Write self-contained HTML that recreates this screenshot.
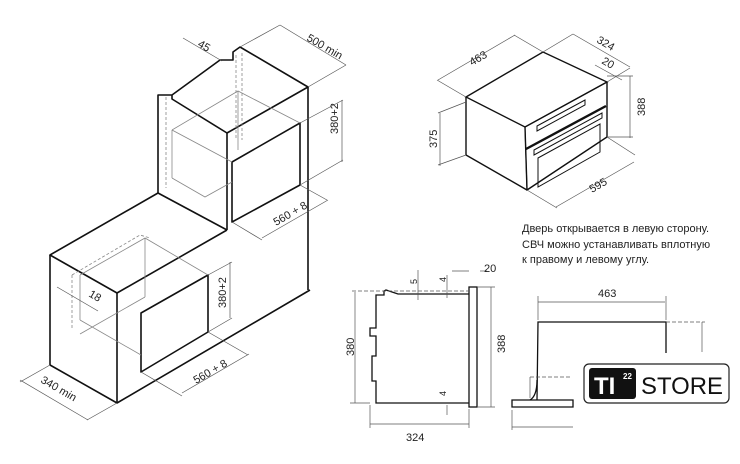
<!DOCTYPE html>
<html><head><meta charset="utf-8"><style>
html,body{margin:0;padding:0;background:#fff;}
svg{display:block}
text{font-family:"Liberation Sans","DejaVu Sans",sans-serif;fill:#222;}
</style></head><body>
<svg width="740" height="464" viewBox="0 0 740 464" xmlns="http://www.w3.org/2000/svg">
<g fill="none" stroke="#111" stroke-width="1.6" stroke-linejoin="round">
<polyline points="158,193 158,95 172,95 172,99 227,133 308,87 240,47 233,52 233,60 220,60 172,95"/>
<line x1="227" y1="133" x2="227" y2="230"/>
<line x1="158" y1="193" x2="227" y2="230"/>
<line x1="308" y1="87" x2="308" y2="290"/>
<polygon points="232,162 300,123 300,185 232,222"/>
<polyline points="227,230 117,293 50,255 158,193"/>
<line x1="50" y1="255" x2="50" y2="365"/>
<polyline points="50,365 117,403 310,290"/>
<line x1="117" y1="293" x2="117" y2="403"/>
<polygon points="141,313 208,275 208,332 141,372"/>
</g>
<g fill="none" stroke="#888" stroke-width="0.8">
<polyline points="172,130 238,91 300,123"/>
<line x1="172" y1="130" x2="232" y2="162"/>
<line x1="172" y1="130" x2="172" y2="178"/>
<polyline points="172,178 205,197 232,182"/>
<line x1="238" y1="91" x2="238" y2="150"/>
<polyline points="80,275 145,238 208,275"/>
<line x1="80" y1="275" x2="80" y2="320"/>
<polyline points="80,320 141,355"/>
<line x1="145" y1="238" x2="145" y2="297"/>
<line x1="145" y1="297" x2="80" y2="334"/>
</g>
<g fill="none" stroke="#888" stroke-width="0.8" stroke-dasharray="3,2">
<line x1="166" y1="97" x2="166" y2="188"/>
<line x1="236" y1="55" x2="236" y2="140"/>
<line x1="242" y1="53" x2="242" y2="140"/>
<polyline points="72,275 140,235 150,238"/>
<line x1="72" y1="275" x2="72" y2="330"/>
</g>
<g fill="none" stroke="#555" stroke-width="0.7">
<line x1="183" y1="38" x2="222" y2="61"/>
<line x1="240" y1="47" x2="280" y2="25"/><line x1="308" y1="87" x2="346" y2="65"/>
<line x1="280" y1="25" x2="346" y2="65"/>
<line x1="300" y1="123" x2="343" y2="100"/><line x1="300" y1="185" x2="343" y2="160"/>
<line x1="342" y1="100" x2="342" y2="162"/>
<line x1="300" y1="185" x2="327" y2="200"/><line x1="232" y1="222" x2="262" y2="240"/>
<line x1="262" y1="238" x2="328" y2="200"/>
<line x1="208" y1="275" x2="232" y2="262"/><line x1="208" y1="332" x2="232" y2="318"/>
<line x1="230" y1="262" x2="230" y2="318"/>
<line x1="208" y1="332" x2="248" y2="355"/><line x1="141" y1="372" x2="182" y2="396"/>
<line x1="182" y1="393" x2="249" y2="354"/>
<line x1="50" y1="365" x2="20" y2="382"/><line x1="117" y1="403" x2="87" y2="420"/>
<line x1="20" y1="380" x2="88" y2="420"/>
<line x1="57" y1="287" x2="98" y2="311"/>
</g>
<g font-size="11">
<text x="197" y="46" transform="rotate(30 197 46)">45</text>
<text x="306" y="40" transform="rotate(30 306 40)">500 min</text>
<text x="338" y="134" transform="rotate(-90 338 134)">380+2</text>
<text x="276" y="226" transform="rotate(-30 276 226)">560 + 8</text>
<text x="226" y="308" transform="rotate(-90 226 308)">380+2</text>
<text x="196" y="384" transform="rotate(-30 196 384)">560 + 8</text>
<text x="88" y="296" transform="rotate(30 88 296)">18</text>
<text x="40" y="382" transform="rotate(30 40 382)">340 min</text>
</g>
<g fill="none" stroke="#111" stroke-width="1.4">
<polygon points="466,97 543,52 607,82 525,127"/>
<line x1="466" y1="97" x2="466" y2="155"/>
<polyline points="466,155 527,190 607,137 607,82"/>
<line x1="525" y1="127" x2="527" y2="190"/>
<polygon points="525,127 607,82 607,137 527,190" stroke-width="1"/>
<polygon points="537,126 585,100 585,105 537,131" stroke-width="1"/>
<line x1="526" y1="149" x2="606" y2="106" stroke-width="2.4"/>
<polygon points="534,150 602,113 602,118 534,155" stroke-width="1"/>
<polygon points="538,158 600,124 600,152 538,187" stroke-width="1"/>
</g>
<g fill="none" stroke="#555" stroke-width="0.7">
<line x1="466" y1="97" x2="437" y2="80"/><line x1="543" y1="52" x2="514" y2="35"/>
<line x1="438" y1="80" x2="515" y2="35"/>
<line x1="543" y1="52" x2="573" y2="34"/><line x1="607" y1="82" x2="630" y2="68"/>
<line x1="573" y1="34" x2="630" y2="67"/>
<line x1="595" y1="65" x2="622" y2="80"/>
<line x1="607" y1="76" x2="633" y2="76"/><line x1="607" y1="137" x2="633" y2="137"/>
<line x1="630" y1="76" x2="630" y2="138"/>
<line x1="466" y1="102" x2="438" y2="113"/><line x1="466" y1="155" x2="438" y2="165"/>
<line x1="440" y1="113" x2="440" y2="166"/>
<line x1="527" y1="190" x2="557" y2="208"/><line x1="607" y1="137" x2="635" y2="155"/>
<line x1="556" y1="207" x2="634" y2="162"/>
</g>
<g font-size="11">
<text x="472" y="66" transform="rotate(-30 472 66)">463</text>
<text x="596" y="42" transform="rotate(30 596 42)">324</text>
<text x="601" y="63" transform="rotate(30 601 63)">20</text>
<text x="645" y="116" transform="rotate(-90 645 116)">388</text>
<text x="437" y="148" transform="rotate(-90 437 148)">375</text>
<text x="592" y="193" transform="rotate(-30 592 193)">595</text>
</g>
<g font-size="11" fill="#333">
<text x="522" y="232">Дверь открывается в левую сторону.</text>
<text x="522" y="248">СВЧ можно устанавливать вплотную</text>
<text x="522" y="263">к правому и левому углу.</text>
</g>
<g fill="none" stroke="#111" stroke-width="1.3">
<rect x="469" y="287" width="8" height="120"/>
<polyline points="469,294 398,294 386,290 384,291 384,295 376,295 376,328 370,328 370,336 376,336 376,356 372,356 372,381 376,381 376,403 469,403"/>
</g>
<g fill="none" stroke="#555" stroke-width="0.7">
<line x1="352" y1="291" x2="469" y2="291" stroke-dasharray="4,2"/>
<line x1="355" y1="292" x2="355" y2="403"/><line x1="350" y1="403" x2="370" y2="403"/>
<line x1="477" y1="287" x2="495" y2="287"/><line x1="477" y1="407" x2="495" y2="407"/>
<line x1="491" y1="287" x2="491" y2="407"/>
<line x1="370" y1="405" x2="370" y2="428"/><line x1="469" y1="409" x2="469" y2="428"/>
<line x1="370" y1="424" x2="469" y2="424"/>
<line x1="418" y1="270" x2="418" y2="300"/><line x1="447" y1="275" x2="447" y2="298"/>
<line x1="447" y1="405" x2="447" y2="415"/><line x1="452" y1="271" x2="469" y2="271"/>
<line x1="480" y1="271" x2="487" y2="271"/>
</g>
<g font-size="11">
<text x="354" y="356" transform="rotate(-90 354 356)">380</text>
<text x="505" y="353" transform="rotate(-90 505 353)">388</text>
<text x="406" y="441">324</text>
<text x="484" y="272">20</text>
<text x="417" y="284" transform="rotate(-90 417 284)" font-size="9">5</text>
<text x="446" y="282" transform="rotate(-90 446 282)" font-size="9">4</text>
<text x="446" y="396" transform="rotate(-90 446 396)" font-size="9">4</text>
</g>
<g fill="none" stroke="#111" stroke-width="1.3">
<polyline points="537,400 538,322 666,322 666,353"/>
<path d="M512,400 L573,400 L573,407 L512,407 Z"/>
<path d="M530,400 Q537,396 537,380"/>
</g>
<g fill="none" stroke="#555" stroke-width="0.7">
<line x1="538" y1="302" x2="665" y2="302"/>
<line x1="538" y1="296" x2="538" y2="320"/><line x1="666" y1="296" x2="666" y2="320"/>
<line x1="666" y1="322" x2="705" y2="322" stroke-dasharray="4,2"/>
<line x1="702" y1="322" x2="702" y2="352"/>
<line x1="530" y1="377" x2="572" y2="377" stroke-dasharray="4,2"/>
<line x1="530" y1="377" x2="530" y2="398"/>
<line x1="512" y1="410" x2="512" y2="430"/><line x1="512" y1="427" x2="573" y2="427"/>
</g>
<text x="598" y="297" font-size="11">463</text>
<rect x="584" y="364" width="145" height="39" rx="5" fill="#fff" stroke="#222" stroke-width="1.2"/>
<rect x="589" y="368" width="47" height="31" rx="3" fill="#111"/>
<text x="594" y="394" font-size="24" font-weight="bold" style="fill:#fff">TI</text>
<text x="623" y="379" font-size="8" font-weight="bold" style="fill:#fff">22</text>
<text x="641" y="394" font-size="24" textLength="82" lengthAdjust="spacingAndGlyphs" style="fill:#111">STORE</text>
</svg>
</body></html>
